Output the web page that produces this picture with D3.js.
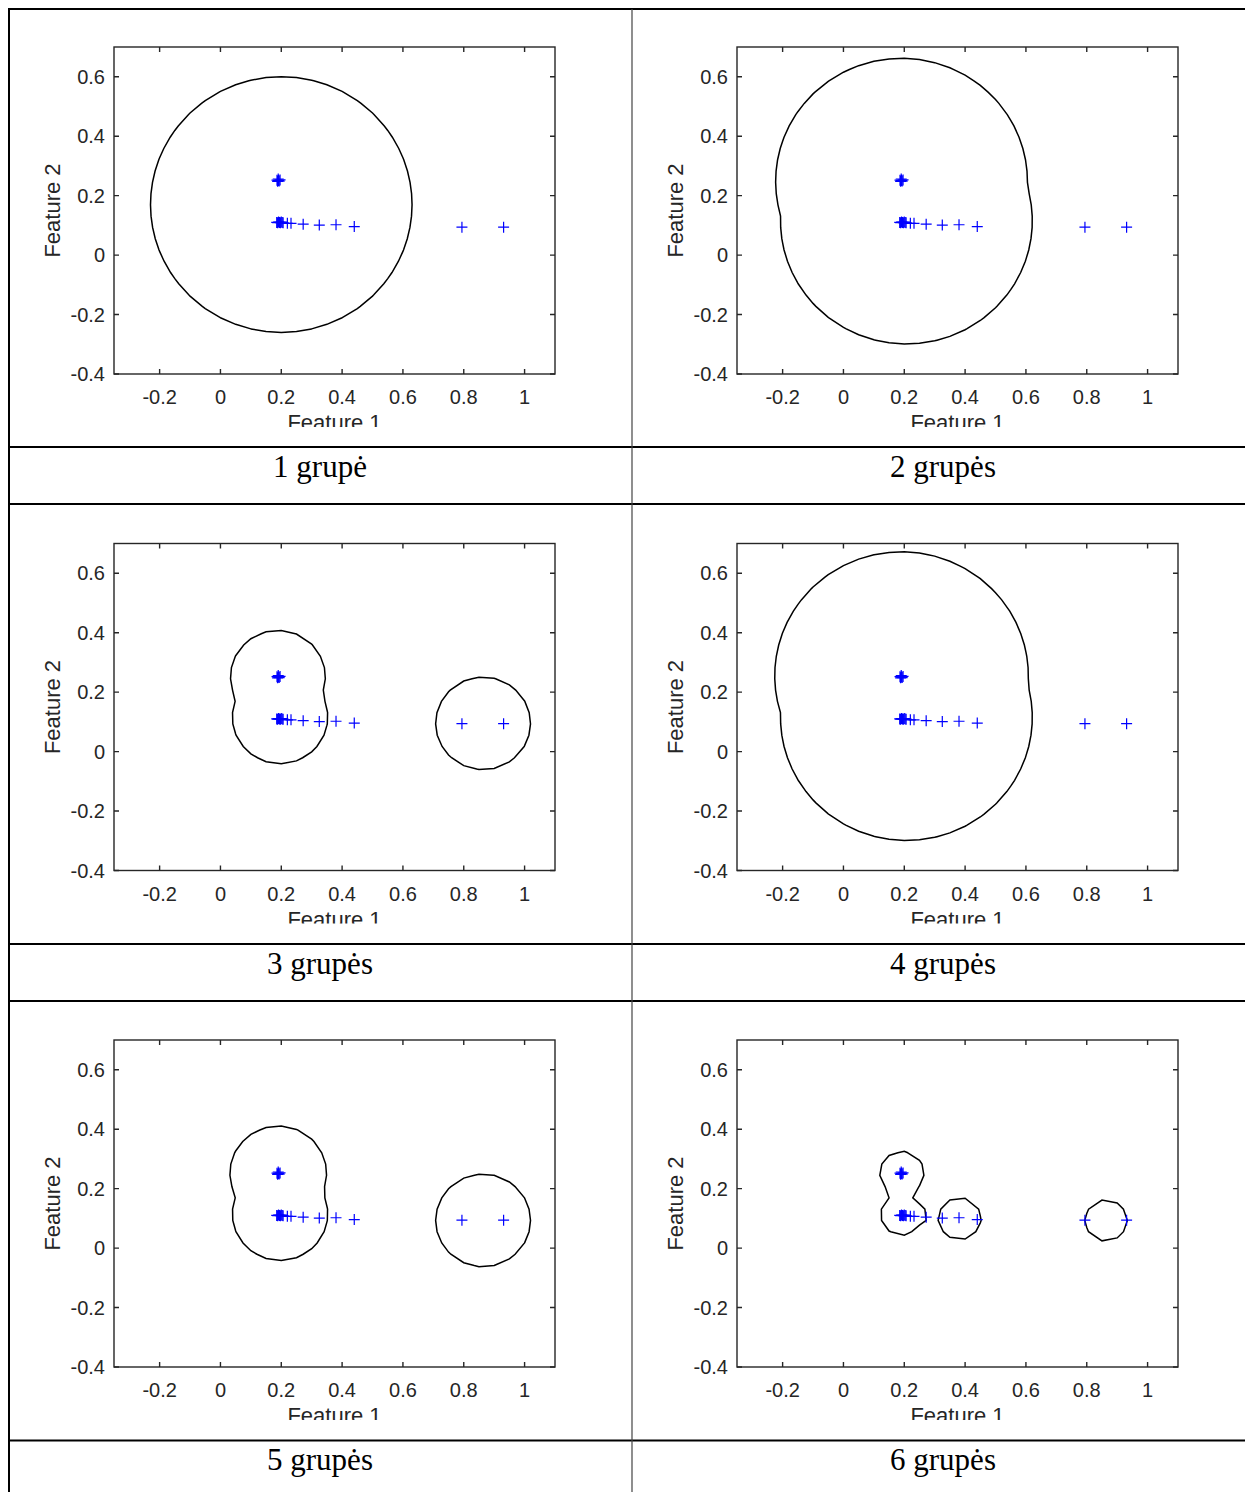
<!DOCTYPE html>
<html>
<head>
<meta charset="utf-8">
<script src="https://cdn.jsdelivr.net/npm/d3@7"></script>
<style>
  body { margin: 0; background: #fff; }
  text { fill: #262626; }
</style>
</head>
<body>
<svg id="chart" width="1245" height="1492"></svg>
<script>
// --- data ---
const xTicks = [-0.2, 0, 0.2, 0.4, 0.6, 0.8, 1];
const yTicks = [-0.4, -0.2, 0, 0.2, 0.4, 0.6];
const xDomain = [-0.35, 1.1];
const yDomain = [-0.4, 0.7];

const captions = ["1 grupė", "2 grupės", "3 grupės", "4 grupės", "5 grupės", "6 grupės"];

// samples (the same in every panel)
const pointsX = [0.186, 0.190, 0.193, 0.188, 0.196, 0.191,
                 0.185, 0.188, 0.191, 0.194, 0.197, 0.200, 0.203, 0.206,
                 0.220, 0.232, 0.272, 0.325, 0.380, 0.440, 0.794, 0.931];
const pointsY = [0.252, 0.256, 0.249, 0.248, 0.253, 0.251,
                 0.110, 0.109, 0.111, 0.110, 0.109, 0.111, 0.110, 0.109,
                 0.107, 0.107, 0.104, 0.101, 0.102, 0.096, 0.094, 0.094];

// group centres and radii per panel: [cx, cy, r]
const groups1 = [[0.200, 0.170, 0.430]];
const groups2 = [[0.191, 0.248, 0.414], [0.207, 0.115, 0.414]];
const groups3 = [[0.189, 0.252, 0.156], [0.196, 0.116, 0.157], [0.8635, 0.095, 0.156]];
const groups4 = [[0.191, 0.255, 0.417], [0.207, 0.115, 0.414]];
const groups5 = [[0.190, 0.252, 0.159], [0.196, 0.115, 0.157], [0.8635, 0.093, 0.156]];
const groups6 = [[0.192, 0.253, 0.073], [0.192, 0.113, 0.070], [0.382, 0.099, 0.071], [0.8635, 0.093, 0.070]];
const panelGroups = [groups1, groups2, groups3, groups4, groups5, groups6];

// --- layout ---
const colStep = 623, rowStep = 496.5;
const box = { left: 114, right: 555, top: 47, bottom: 374 };
const gridN = 30;

const svg = d3.select("#chart");

const x = d3.scaleLinear().domain(xDomain).range([box.left, box.right]);
const y = d3.scaleLinear().domain(yDomain).range([box.bottom, box.top]);

// find how d3.contours places grid values (index k -> coordinate k or k + 0.5)
const probe = d3.contours().size([3, 3]).thresholds([0.5])([0, 0, 0, 0, 1, 0, 0, 0, 0])[0];
const probeXs = probe.coordinates.flat(2).map(p => p[0]);
const gridOffset = (d3.min(probeXs) + d3.max(probeXs)) / 2 - 1;

const gx = d3.scaleLinear().domain([gridOffset, gridOffset + gridN - 1]).range(xDomain);
const gy = d3.scaleLinear().domain([gridOffset, gridOffset + gridN - 1]).range(yDomain);

function fieldValues(groups) {
  const vals = new Array(gridN * gridN);
  for (let j = 0; j < gridN; j++) {
    for (let i = 0; i < gridN; i++) {
      const px = gx(i + gridOffset), py = gy(j + gridOffset);
      vals[j * gridN + i] = d3.max(groups, g => 1 - Math.hypot(px - g[0], py - g[1]) / g[2]);
    }
  }
  return vals;
}

function ringPath(ring) {
  return "M" + ring.map(p => `${x(gx(p[0]))},${y(gy(p[1]))}`).join("L") + "Z";
}

svg.append("defs").append("clipPath").attr("id", "figclip")
  .append("rect").attr("x", 10).attr("y", 10).attr("width", 620).attr("height", 417);

panelGroups.forEach((groups, k) => {
  const col = k % 2, row = Math.floor(k / 2);
  const g = svg.append("g").attr("transform", `translate(${col * colStep},${row * rowStep})`);
  const fig = g.append("g").attr("clip-path", "url(#figclip)");

  // contour
  const cont = d3.contours().size([gridN, gridN]).thresholds([0])(fieldValues(groups));
  const rings = cont.flatMap(c => c.coordinates.flat(1));
  fig.selectAll(".contour").data(rings).join("path")
    .attr("class", "contour")
    .attr("d", ringPath)
    .attr("fill", "none")
    .attr("stroke", "#000")
    .attr("stroke-width", 1.5);

  // points
  fig.selectAll(".pt").data(pointsX).join("path")
    .attr("class", "pt")
    .attr("transform", (d, i) => `translate(${x(d)},${y(pointsY[i])})`)
    .attr("d", "M-5.5,0H5.5M0,-5.5V5.5")
    .attr("stroke", "#0000ff")
    .attr("stroke-width", 1.2)
    .attr("fill", "none");

  // axes box
  fig.append("rect")
    .attr("x", box.left).attr("y", box.top)
    .attr("width", box.right - box.left).attr("height", box.bottom - box.top)
    .attr("fill", "none").attr("stroke", "#262626").attr("stroke-width", 1.4);

  const tl = 5;
  fig.selectAll(".xt").data(xTicks).join("path")
    .attr("class", "xt")
    .attr("d", d => `M${x(d)},${box.bottom}v${-tl}M${x(d)},${box.top}v${tl}`)
    .attr("stroke", "#262626").attr("stroke-width", 1.4);
  fig.selectAll(".yt").data(yTicks).join("path")
    .attr("class", "yt")
    .attr("d", d => `M${box.left},${y(d)}h${tl}M${box.right},${y(d)}h${-tl}`)
    .attr("stroke", "#262626").attr("stroke-width", 1.4);

  fig.selectAll(".xl").data(xTicks).join("text")
    .attr("class", "xl")
    .attr("x", d => x(d)).attr("y", box.bottom + 30)
    .attr("text-anchor", "middle")
    .style("font", "20px 'Liberation Sans', Arial, sans-serif")
    .text(d => String(d));
  fig.selectAll(".yl").data(yTicks).join("text")
    .attr("class", "yl")
    .attr("x", box.left - 9).attr("y", d => y(d)).attr("dy", "0.36em")
    .attr("text-anchor", "end")
    .style("font", "20px 'Liberation Sans', Arial, sans-serif")
    .text(d => String(d));

  fig.append("text")
    .attr("x", (box.left + box.right) / 2).attr("y", box.bottom + 56)
    .attr("text-anchor", "middle")
    .style("font", "22px 'Liberation Sans', Arial, sans-serif")
    .text("Feature 1");
  fig.append("text")
    .attr("transform", `translate(60,${(box.top + box.bottom) / 2}) rotate(-90)`)
    .attr("text-anchor", "middle")
    .style("font", "22px 'Liberation Sans', Arial, sans-serif")
    .text("Feature 2");

  // caption
  g.append("text")
    .attr("x", 320)
    .attr("y", 447 + 30)
    .attr("text-anchor", "middle")
    .style("font", "31px 'Liberation Serif', 'Times New Roman', serif")
    .style("fill", "#000")
    .text(captions[k]);
});

// table lines
const hLines = [447, 504, 944, 1001, 1440.5];
svg.selectAll(".hl").data(hLines).join("line")
  .attr("class", "hl")
  .attr("x1", 8).attr("x2", 1245).attr("y1", d => d).attr("y2", d => d)
  .attr("stroke", "#000").attr("stroke-width", 1.8);
svg.append("line").attr("x1", 8).attr("x2", 1245).attr("y1", 9).attr("y2", 9)
  .attr("stroke", "#000").attr("stroke-width", 2);
svg.append("line").attr("x1", 9).attr("x2", 9).attr("y1", 8).attr("y2", 1492)
  .attr("stroke", "#000").attr("stroke-width", 2);
svg.append("line").attr("x1", 632).attr("x2", 632).attr("y1", 9).attr("y2", 1492)
  .attr("stroke", "#444").attr("stroke-width", 1.2);
</script>
</body>
</html>
